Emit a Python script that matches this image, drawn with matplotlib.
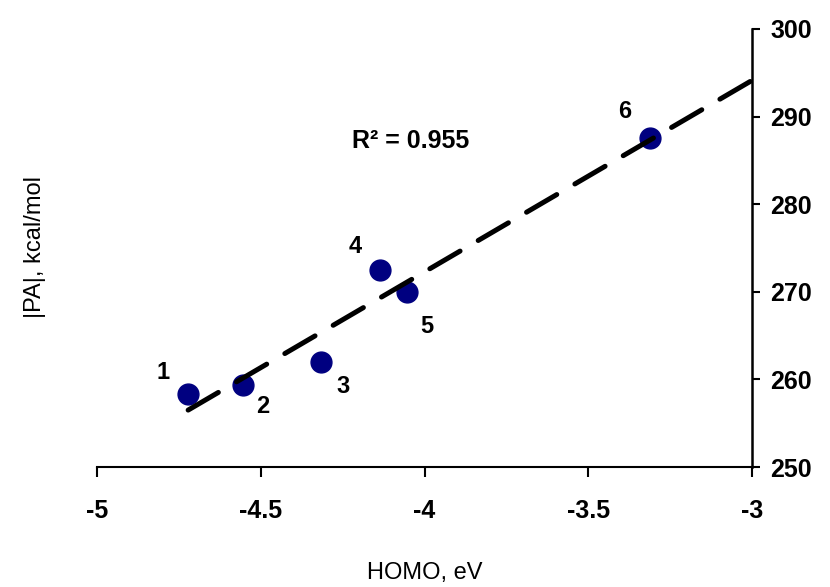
import matplotlib
matplotlib.use('Agg')
import matplotlib.pyplot as plt
import numpy as np

plt.rcParams['font.family'] = ['Liberation Sans', 'DejaVu Sans']

# HOMO energy (eV) vs |PA| (kcal/mol) for compounds 1-6
homo = [-4.722, -4.554, -4.316, -4.136, -4.053, -3.311]
pa = [258.3, 259.4, 262.0, 272.5, 270.0, 287.6]
labels = ['1', '2', '3', '4', '5', '6']
# label offsets in points relative to each marker
label_offsets = [(-18, 16), (14, -16), (16, -18), (-18, 17), (14, -25), (-18, 19)]

xticks = [-5, -4.5, -4, -3.5, -3]
xtick_labels = ['-5', '-4.5', '-4', '-3.5', '-3']
yticks = [250, 260, 270, 280, 290, 300]


def main():
    fig = plt.figure(figsize=(8.3, 5.87), dpi=100)
    ax = fig.add_axes([0.117, 0.2044, 0.789, 0.7462])

    ax.plot(homo, pa, 'o', color='#000080', markersize=15, zorder=2)

    # linear trendline, extended forward to x = -3
    slope, intercept = np.polyfit(homo, pa, 1)
    xs = np.array([min(homo), -3])
    ax.plot(xs, slope * xs + intercept, color='black', lw=3.6,
            dashes=(7, 4.2), dash_capstyle='round', zorder=3)

    for x, y, lab, off in zip(homo, pa, labels, label_offsets):
        ax.annotate(lab, (x, y), xytext=off, textcoords='offset points',
                    ha='center', va='center', fontsize=17, fontweight='bold')

    ax.text(-4.044, 287.2, 'R² = 0.955', ha='center', va='center',
            fontsize=18, fontweight='bold')

    ax.set_xlim(-5, -3)
    ax.set_ylim(250, 300)
    ax.set_xticks(xticks)
    ax.set_xticklabels(xtick_labels)
    ax.set_yticks(yticks)

    ax.spines['top'].set_visible(False)
    ax.spines['left'].set_visible(False)
    ax.spines['bottom'].set_linewidth(1.5)
    ax.spines['right'].set_linewidth(1.8)

    ax.yaxis.tick_right()
    ax.tick_params(axis='x', direction='out', length=7, width=1.5, pad=16,
                   labelsize=18)
    ax.tick_params(axis='y', direction='out', length=6, width=1.5, pad=7,
                   labelsize=18)
    for t in ax.get_xticklabels() + ax.get_yticklabels():
        t.set_fontweight('bold')

    ax.set_xlabel('HOMO, eV', fontsize=17, labelpad=28)
    fig.text(0.042, 0.579, '|PA|, kcal/mol', rotation=90, ha='center',
             va='center', fontsize=17)

    fig.savefig('out.png', dpi=100)


if __name__ == '__main__':
    main()
